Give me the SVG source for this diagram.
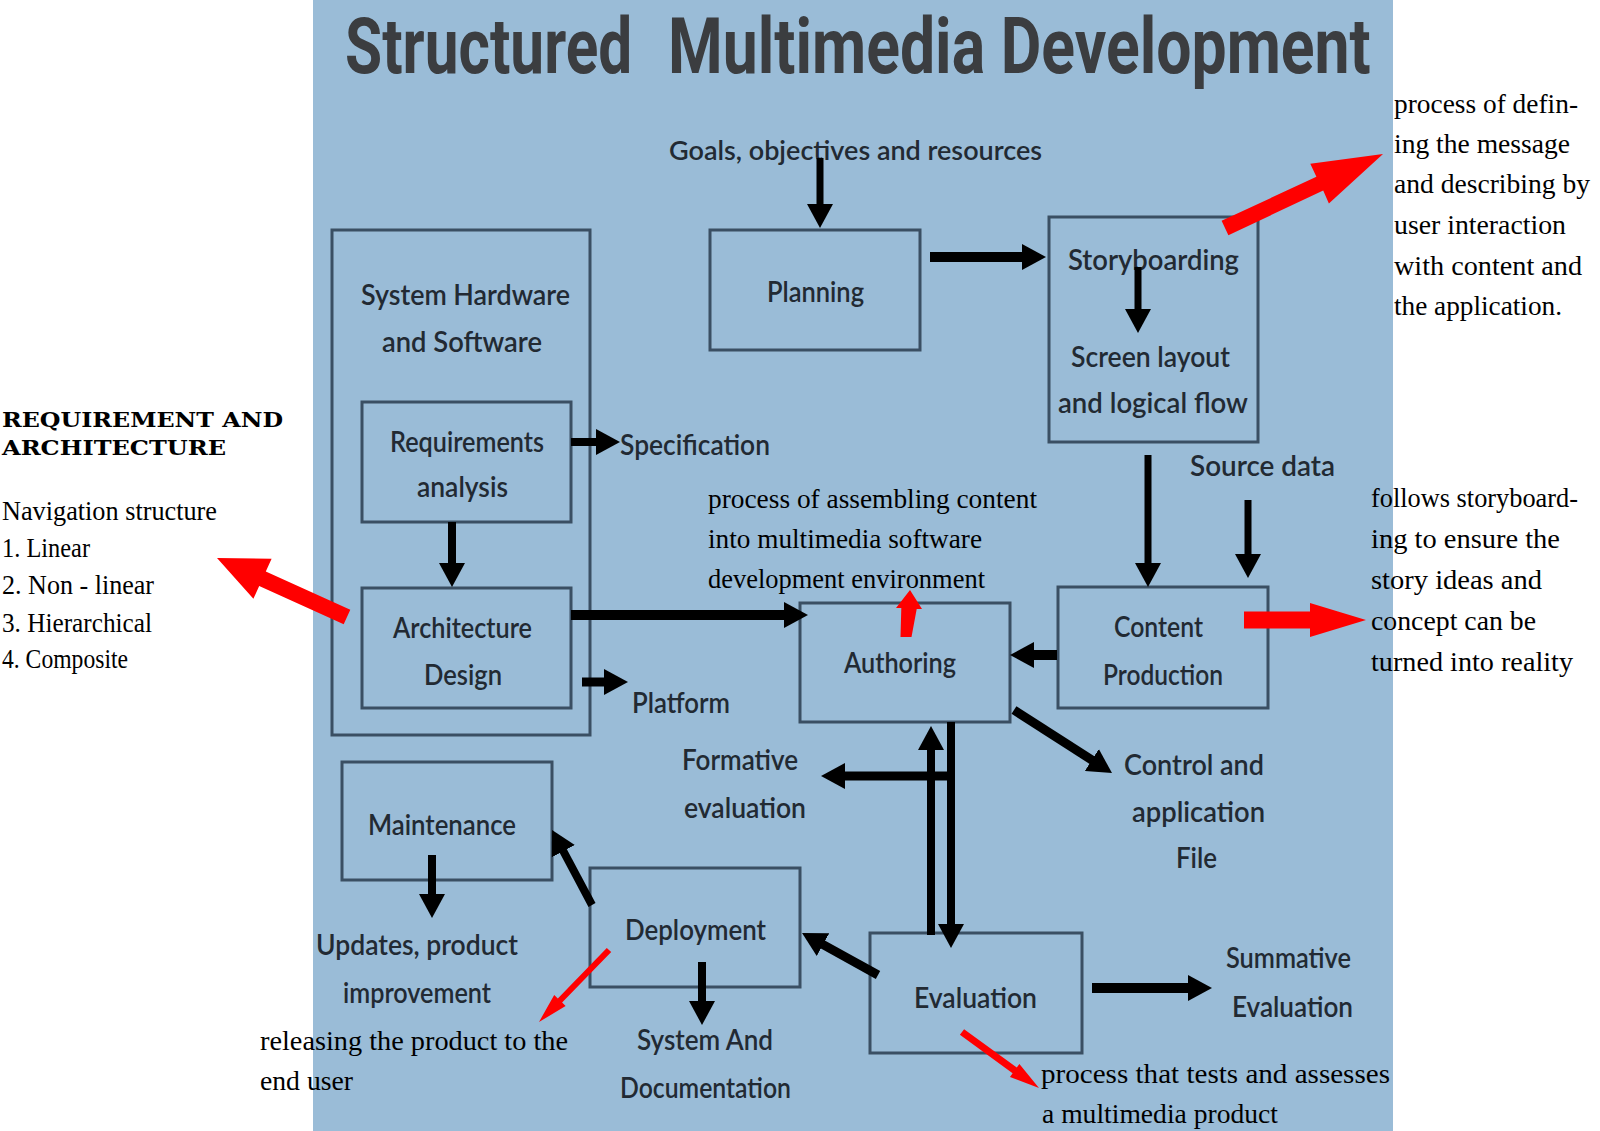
<svg xmlns="http://www.w3.org/2000/svg" width="1600" height="1131" viewBox="0 0 1600 1131">
<defs>
<marker id="ah" markerUnits="userSpaceOnUse" markerWidth="24" markerHeight="26" refX="2" refY="13" orient="auto">
<path d="M0,0 L24,13 L0,26 Z" fill="#000"/>
</marker>
<style>
.box{fill:none;stroke:#3a4f63;stroke-width:3}
.t{font-family:Lato,"Open Sans","Liberation Sans",sans-serif;font-size:28px;font-weight:600;fill:#222a33}
.c{stroke:#000;fill:none;marker-end:url(#ah)}
.a{font-family:"Liberation Serif","DejaVu Serif",serif;font-size:27px;fill:#000}
.h{font-family:"DejaVu Serif","Liberation Serif",serif;font-size:21px;font-weight:bold;fill:#000}
.ttl{font-family:Roboto,"Open Sans","Liberation Sans",sans-serif;font-size:78px;font-weight:bold;fill:#3b3d40}
.red{fill:#f00}
</style>
</defs>
<rect x="0" y="0" width="1600" height="1131" fill="#fff"/>
<rect x="313" y="0" width="1080" height="1131" fill="#9abcd7"/>
<g id="title">
<text class="ttl" x="0" y="0" transform="translate(345,73) scale(0.76,1)" textLength="378" lengthAdjust="spacingAndGlyphs">Structured</text>
<text class="ttl" x="0" y="0" transform="translate(668,73) scale(0.78,1)" textLength="901" lengthAdjust="spacingAndGlyphs">Multimedia Development</text>
</g>

<g id="goals"><text class="t" x="669" y="160" style="font-size:26px" textLength="373" lengthAdjust="spacingAndGlyphs">Goals, objectives and resources</text></g>

<g id="system"><rect class="box" x="332" y="230" width="258" height="505"/>
<text class="t" x="361" y="305" textLength="209" lengthAdjust="spacingAndGlyphs">System Hardware</text>
<text class="t" x="382" y="352" textLength="160" lengthAdjust="spacingAndGlyphs">and Software</text></g>

<g id="requirements"><rect class="box" x="362" y="402" width="209" height="120"/>
<text class="t" x="390" y="452" textLength="154" lengthAdjust="spacingAndGlyphs">Requirements</text>
<text class="t" x="417" y="497" textLength="91" lengthAdjust="spacingAndGlyphs">analysis</text></g>

<g id="architecture"><rect class="box" x="362" y="588" width="209" height="120"/>
<text class="t" x="393" y="638" textLength="139" lengthAdjust="spacingAndGlyphs">Architecture</text>
<text class="t" x="424" y="685" textLength="78" lengthAdjust="spacingAndGlyphs">Design</text></g>

<g id="specification"><text class="t" x="620" y="455" textLength="150" lengthAdjust="spacingAndGlyphs">Specification</text></g>
<g id="platform"><text class="t" x="632" y="713" textLength="98" lengthAdjust="spacingAndGlyphs">Platform</text></g>

<g id="planning"><rect class="box" x="710" y="230" width="210" height="120"/>
<text class="t" x="767" y="302" textLength="97" lengthAdjust="spacingAndGlyphs">Planning</text></g>

<g id="storyboarding"><rect class="box" x="1049" y="217" width="209" height="225"/>
<text class="t" x="1068" y="270" textLength="171" lengthAdjust="spacingAndGlyphs">Storyboarding</text>
<text class="t" x="1071" y="367" textLength="159" lengthAdjust="spacingAndGlyphs">Screen layout</text>
<text class="t" x="1058" y="413" textLength="190" lengthAdjust="spacingAndGlyphs">and logical flow</text></g>

<g id="sourcedata"><text class="t" x="1190" y="476" textLength="145" lengthAdjust="spacingAndGlyphs">Source data</text></g>

<g id="authoring"><rect class="box" x="800" y="603" width="210" height="119"/>
<text class="t" x="844" y="673" textLength="112" lengthAdjust="spacingAndGlyphs">Authoring</text></g>

<g id="content"><rect class="box" x="1058" y="587" width="210" height="121"/>
<text class="t" x="1114" y="637" textLength="89" lengthAdjust="spacingAndGlyphs">Content</text>
<text class="t" x="1103" y="685" textLength="120" lengthAdjust="spacingAndGlyphs">Production</text></g>

<g id="control"><text class="t" x="1124" y="775" textLength="140" lengthAdjust="spacingAndGlyphs">Control and</text>
<text class="t" x="1132" y="822" textLength="133" lengthAdjust="spacingAndGlyphs">application</text>
<text class="t" x="1176" y="868" textLength="41" lengthAdjust="spacingAndGlyphs">File</text></g>

<g id="formative"><text class="t" x="682" y="770" textLength="116" lengthAdjust="spacingAndGlyphs">Formative</text>
<text class="t" x="684" y="818" textLength="122" lengthAdjust="spacingAndGlyphs">evaluation</text></g>

<g id="maintenance"><rect class="box" x="342" y="762" width="210" height="118"/>
<text class="t" x="368" y="835" textLength="148" lengthAdjust="spacingAndGlyphs">Maintenance</text></g>

<g id="updates"><text class="t" x="316" y="955" textLength="202" lengthAdjust="spacingAndGlyphs">Updates, product</text>
<text class="t" x="343" y="1003" textLength="148" lengthAdjust="spacingAndGlyphs">improvement</text></g>

<g id="deployment"><rect class="box" x="590" y="868" width="210" height="119"/>
<text class="t" x="625" y="940" textLength="141" lengthAdjust="spacingAndGlyphs">Deployment</text></g>

<g id="sysdoc"><text class="t" x="637" y="1050" textLength="136" lengthAdjust="spacingAndGlyphs">System And</text>
<text class="t" x="620" y="1098" textLength="171" lengthAdjust="spacingAndGlyphs">Documentation</text></g>

<g id="evaluation"><rect class="box" x="870" y="933" width="212" height="120"/>
<text class="t" x="914" y="1008" textLength="123" lengthAdjust="spacingAndGlyphs">Evaluation</text></g>

<g id="summative"><text class="t" x="1226" y="968" textLength="125" lengthAdjust="spacingAndGlyphs">Summative</text>
<text class="t" x="1232" y="1017" textLength="121" lengthAdjust="spacingAndGlyphs">Evaluation</text></g>

<g id="connectors">
<line class="c" x1="820" y1="158" x2="820" y2="206" stroke-width="7"/>
<line class="c" x1="930" y1="257" x2="1024" y2="257" stroke-width="10"/>
<line class="c" x1="1138" y1="267" x2="1138" y2="311" stroke-width="7"/>
<line class="c" x1="571" y1="442" x2="598" y2="442" stroke-width="8"/>
<line class="c" x1="452" y1="522" x2="452" y2="565" stroke-width="8"/>
<line class="c" x1="571" y1="615" x2="786" y2="615" stroke-width="10"/>
<line class="c" x1="582" y1="682" x2="606" y2="682" stroke-width="9"/>
<line class="c" x1="1148" y1="455" x2="1148" y2="565" stroke-width="7"/>
<line class="c" x1="1248" y1="500" x2="1248" y2="556" stroke-width="7"/>
<line class="c" x1="1057" y1="655" x2="1032" y2="655" stroke-width="10"/>
<line class="c" x1="1014" y1="710" x2="1093.5" y2="761.1" stroke-width="9"/>
<line class="c" x1="931" y1="935" x2="931" y2="748" stroke-width="8"/>
<line class="c" x1="951" y1="722" x2="951" y2="926" stroke-width="8"/>
<line class="c" x1="951" y1="776" x2="843" y2="776" stroke-width="9"/>
<line class="c" x1="1092" y1="988" x2="1190" y2="988" stroke-width="10"/>
<line class="c" x1="878" y1="975" x2="821.3" y2="943.6" stroke-width="9"/>
<line class="c" x1="702" y1="962" x2="702" y2="1003" stroke-width="8"/>
<line class="c" x1="592" y1="905" x2="562.4" y2="849.4" stroke-width="8"/>
<line class="c" x1="432" y1="855" x2="432" y2="896" stroke-width="8"/>
</g>

<g id="red-arrows">
<polygon class="red" points="350.3,609.7 265.8,571.4 271.6,558.7 217,558 253.4,598.7 259.2,586.0 343.7,624.3"/>
<polygon class="red" points="1228.4,235.2 1323.2,190.5 1328.9,203.6 1383,154 1310.3,163.8 1316.4,176.8 1221.6,220.8"/>
<polygon class="red" points="1244,611.5 1310,611.5 1310,603 1366,620 1310,637 1310,628.5 1244,628.5"/>
<polygon class="red" points="900.5,637 901.3,608 896,608 910,590 922,609 916.7,609 911.5,637"/>
<polygon class="red" points="611.2,952.1 562.1,1002.6 565.6,1006.1 539,1022 554.2,994.9 557.8,998.4 606.8,947.9"/>
<polygon class="red" points="959.9,1034.8 1012.6,1073.2 1010.0,1076.9 1039,1088 1019.4,1063.9 1016.8,1067.6 964.1,1029.2"/>
</g>

<g id="note-requirements">
<text class="h" x="2" y="427" textLength="281" lengthAdjust="spacingAndGlyphs">REQUIREMENT AND</text>
<text class="h" x="2" y="455" textLength="224" lengthAdjust="spacingAndGlyphs">ARCHITECTURE</text>
<text class="a" x="2" y="520" textLength="215" lengthAdjust="spacingAndGlyphs">Navigation structure</text>
<text class="a" x="2" y="557" textLength="88" lengthAdjust="spacingAndGlyphs">1. Linear</text>
<text class="a" x="2" y="594" textLength="152" lengthAdjust="spacingAndGlyphs">2. Non - linear</text>
<text class="a" x="2" y="632" textLength="150" lengthAdjust="spacingAndGlyphs">3. Hierarchical</text>
<text class="a" x="2" y="668" textLength="126" lengthAdjust="spacingAndGlyphs">4. Composite</text>
</g>

<g id="note-storyboarding">
<text class="a" x="1394" y="113" textLength="184" lengthAdjust="spacingAndGlyphs">process of defin-</text>
<text class="a" x="1394" y="153" textLength="176" lengthAdjust="spacingAndGlyphs">ing the message</text>
<text class="a" x="1394" y="193" textLength="196" lengthAdjust="spacingAndGlyphs">and describing by</text>
<text class="a" x="1394" y="234" textLength="172" lengthAdjust="spacingAndGlyphs">user interaction</text>
<text class="a" x="1394" y="275" textLength="188" lengthAdjust="spacingAndGlyphs">with content and</text>
<text class="a" x="1394" y="315" textLength="168" lengthAdjust="spacingAndGlyphs">the application.</text>
</g>

<g id="note-authoring">
<text class="a" x="708" y="508" textLength="329" lengthAdjust="spacingAndGlyphs">process of assembling content</text>
<text class="a" x="708" y="548" textLength="274" lengthAdjust="spacingAndGlyphs">into multimedia software</text>
<text class="a" x="708" y="588" textLength="277" lengthAdjust="spacingAndGlyphs">development environment</text>
</g>

<g id="note-content">
<text class="a" x="1371" y="507" textLength="207" lengthAdjust="spacingAndGlyphs">follows storyboard-</text>
<text class="a" x="1371" y="548" textLength="189" lengthAdjust="spacingAndGlyphs">ing to ensure the</text>
<text class="a" x="1371" y="589" textLength="171" lengthAdjust="spacingAndGlyphs">story ideas and</text>
<text class="a" x="1371" y="630" textLength="165" lengthAdjust="spacingAndGlyphs">concept can be</text>
<text class="a" x="1371" y="671" textLength="202" lengthAdjust="spacingAndGlyphs">turned into reality</text>
</g>

<g id="note-deployment">
<text class="a" x="260" y="1050" textLength="308" lengthAdjust="spacingAndGlyphs">releasing the product to the</text>
<text class="a" x="260" y="1090" textLength="93" lengthAdjust="spacingAndGlyphs">end user</text>
</g>

<g id="note-evaluation">
<text class="a" x="1041" y="1083" textLength="349" lengthAdjust="spacingAndGlyphs">process that tests and assesses</text>
<text class="a" x="1042" y="1123" textLength="236" lengthAdjust="spacingAndGlyphs">a multimedia product</text>
</g>
</svg>
